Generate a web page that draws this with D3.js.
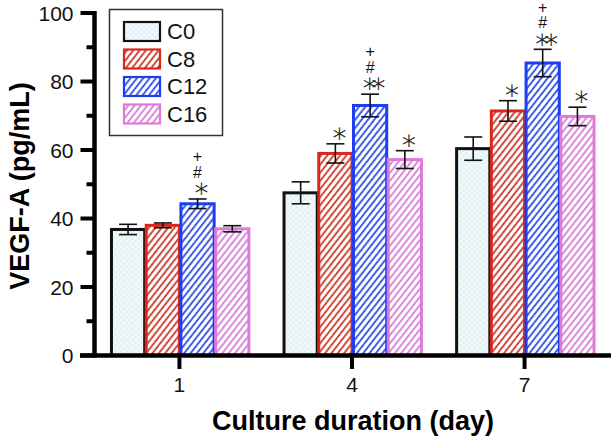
<!DOCTYPE html>
<html lang="en">
<head>
  <meta charset="UTF-8" />
  <title>VEGF-A by culture duration</title>
  <script src="https://d3js.org/d3.v7.min.js"></script>
  <style>
    body { margin: 0; background: #fff; }
    svg { display: block; font-family: "Liberation Sans", Arial, sans-serif; }
    .tick-label { font-size: 21px; fill: #111; }
    .axis-title { font-size: 27px; font-weight: bold; fill: #000; }
    .legend-label { font-size: 22px; fill: #111; }
    .mark { fill: #111; text-anchor: middle; }
  </style>
</head>
<body>
<svg width="612" height="437"></svg>
<script>
  // data
  const days = ["1", "4", "7"];
  const series = ["C0", "C8", "C12", "C16"];
  const means = {
    C0:  [36.8, 47.5, 60.4],
    C8:  [38.0, 59.0, 71.4],
    C12: [44.3, 73.0, 85.4],
    C16: [37.0, 57.2, 69.8]
  };
  const errors = {
    C0:  [1.5, 3.2, 3.4],
    C8:  [0.7, 2.8, 3.0],
    C12: [1.4, 3.3, 4.0],
    C16: [0.9, 2.6, 2.7]
  };
  // significance marks, bottom line first
  const marks = {
    C0:  [[], [], []],
    C8:  [[], ["*"], ["*"]],
    C12: [["*", "#", "+"], ["**", "#", "+"], ["**", "#", "+"]],
    C16: [[], ["*"], ["*"]]
  };
  const yTicks = [0, 20, 40, 60, 80, 100];
  const yMinor = [10, 30, 50, 70, 90];

  const colors = { C0: "#111111", C8: "#d8281e", C12: "#1c3ef0", C16: "#e07ada" };
  const hatch = { C8: "#c8301f", C12: "#2444e4", C16: "#d676d4" };

  const svg = d3.select("svg");
  const defs = svg.append("defs");

  // light crosshatch for C0
  const p0 = defs.append("pattern").attr("id", "pat-C0")
    .attr("patternUnits", "userSpaceOnUse").attr("width", 4).attr("height", 4)
    .attr("patternTransform", "rotate(45)");
  p0.append("rect").attr("width", 4).attr("height", 4).attr("fill", "#f1f9fb");
  p0.append("line").attr("x1", 0).attr("y1", 0).attr("x2", 0).attr("y2", 4)
    .attr("stroke", "#d4eaf0").attr("stroke-width", 1);
  p0.append("line").attr("x1", 0).attr("y1", 0).attr("x2", 4).attr("y2", 0)
    .attr("stroke", "#d4eaf0").attr("stroke-width", 1);

  ["C8", "C12", "C16"].forEach(k => {
    const p = defs.append("pattern").attr("id", "pat-" + k)
      .attr("patternUnits", "userSpaceOnUse").attr("width", 5).attr("height", 5)
      .attr("patternTransform", "rotate(38)");
    p.append("rect").attr("width", 5).attr("height", 5).attr("fill", "#fff");
    p.append("line").attr("x1", 1).attr("y1", 0).attr("x2", 1).attr("y2", 5)
      .attr("stroke", hatch[k]).attr("stroke-width", 1.7);
  });

  const y = d3.scaleLinear().domain([0, 100]).range([355.5, 13]);
  const x = d3.scaleBand().domain(days).range([94, 610])
    .paddingInner(0.195).paddingOuter(0.0925);
  const xs = d3.scaleBand().domain(series).range([0, x.bandwidth()]);

  // bars
  const groups = svg.append("g").selectAll("g")
    .data(days).join("g")
    .attr("transform", d => `translate(${x(d)},0)`);

  series.forEach(s => {
    groups.append("rect")
      .attr("x", xs(s) + 1.5)
      .attr("y", (d, i) => y(means[s][i]))
      .attr("width", xs.bandwidth() - 1.5)
      .attr("height", (d, i) => y(0) - y(means[s][i]))
      .attr("fill", `url(#pat-${s})`)
      .attr("stroke", colors[s])
      .attr("stroke-width", 3);
  });

  // error bars and marks
  series.forEach(s => {
    groups.each(function(d, i) {
      const g = d3.select(this);
      const cx = xs(s) + xs.bandwidth() / 2 + 0.75;
      const hi = y(means[s][i] + errors[s][i]);
      const lo = y(means[s][i] - errors[s][i]);
      g.append("line").attr("x1", cx).attr("x2", cx).attr("y1", hi).attr("y2", lo)
        .attr("stroke", "#111").attr("stroke-width", 1.6);
      [hi, lo].forEach(v => g.append("line")
        .attr("x1", cx - 9).attr("x2", cx + 9).attr("y1", v).attr("y2", v)
        .attr("stroke", "#111").attr("stroke-width", 1.6));
      if (!marks[s][i].length) return;
      // one text per stack, one tspan per line
      const t = g.append("text").attr("class", "mark");
      marks[s][i].forEach((m, j) => {
        const star = m.includes("*");
        t.append("tspan")
          .attr("x", cx)
          .attr("y", hi - 11.5 - j * 15.5)
          .attr("dy", "0.36em")
          .style("font-family", star ? "DejaVu Sans" : "Liberation Sans, Arial, sans-serif")
          .style("font-weight", star ? 200 : null)
          .style("font-size", star ? "27px" : "16px")
          .style("letter-spacing", star ? "-8px" : null)
          .style("stroke", star ? "#111" : null)
          .style("stroke-width", star ? 0.35 : null)
          .text(star ? m.replace(/\*/g, "\u2217") : m);
      });
    });
  });

  // y axis
  const yAxis = svg.append("g").attr("transform", "translate(94.5,0)");
  yAxis.append("line").attr("x1", 0).attr("x2", 0).attr("y1", 11).attr("y2", 357.5)
    .attr("stroke", "#000").attr("stroke-width", 4.5);
  yAxis.selectAll(".major").data(yTicks).join("line")
    .attr("x1", -14).attr("x2", 0).attr("y1", d => y(d)).attr("y2", d => y(d))
    .attr("stroke", "#000").attr("stroke-width", 4);
  yAxis.selectAll(".minor").data(yMinor).join("line")
    .attr("x1", -8).attr("x2", 0).attr("y1", d => y(d)).attr("y2", d => y(d))
    .attr("stroke", "#000").attr("stroke-width", 4);
  yAxis.selectAll("text").data(yTicks).join("text")
    .attr("class", "tick-label")
    .attr("x", -21).attr("y", d => y(d)).attr("dy", "0.36em")
    .attr("text-anchor", "end").text(d => d);

  // x axis
  const xAxis = svg.append("g");
  xAxis.append("line").attr("x1", 80).attr("x2", 611).attr("y1", 355.5).attr("y2", 355.5)
    .attr("stroke", "#000").attr("stroke-width", 4.5);
  xAxis.selectAll(".tick").data(days).join("line")
    .attr("x1", d => x(d) + x.bandwidth() / 2).attr("x2", d => x(d) + x.bandwidth() / 2)
    .attr("y1", 355).attr("y2", 369)
    .attr("stroke", "#000").attr("stroke-width", 4);
  xAxis.selectAll("text").data(days).join("text")
    .attr("class", "tick-label")
    .attr("x", d => x(d) + x.bandwidth() / 2).attr("y", 392)
    .attr("text-anchor", "middle").text(d => d);

  // axis titles
  svg.append("text").attr("class", "axis-title")
    .attr("x", 353).attr("y", 430).attr("text-anchor", "middle")
    .text("Culture duration (day)");
  svg.append("text").attr("class", "axis-title")
    .attr("transform", "translate(29,186) rotate(-90)")
    .attr("text-anchor", "middle")
    .text("VEGF-A (pg/mL)");

  // legend
  const legend = svg.append("g");
  legend.append("rect").attr("x", 109.5).attr("y", 9.5).attr("width", 113).attr("height", 126)
    .attr("fill", "#fff").attr("stroke", "#333").attr("stroke-width", 1.5);
  series.forEach((s, i) => {
    const ly = 22 + i * 27.5;
    legend.append("rect").attr("x", 124).attr("y", ly).attr("width", 36).attr("height", 19)
      .attr("fill", `url(#pat-${s})`).attr("stroke", colors[s]).attr("stroke-width", 2.2);
    legend.append("text").attr("class", "legend-label")
      .attr("x", 167).attr("y", ly + 9.5).attr("dy", "0.36em").text(s);
  });
</script>
</body>
</html>
